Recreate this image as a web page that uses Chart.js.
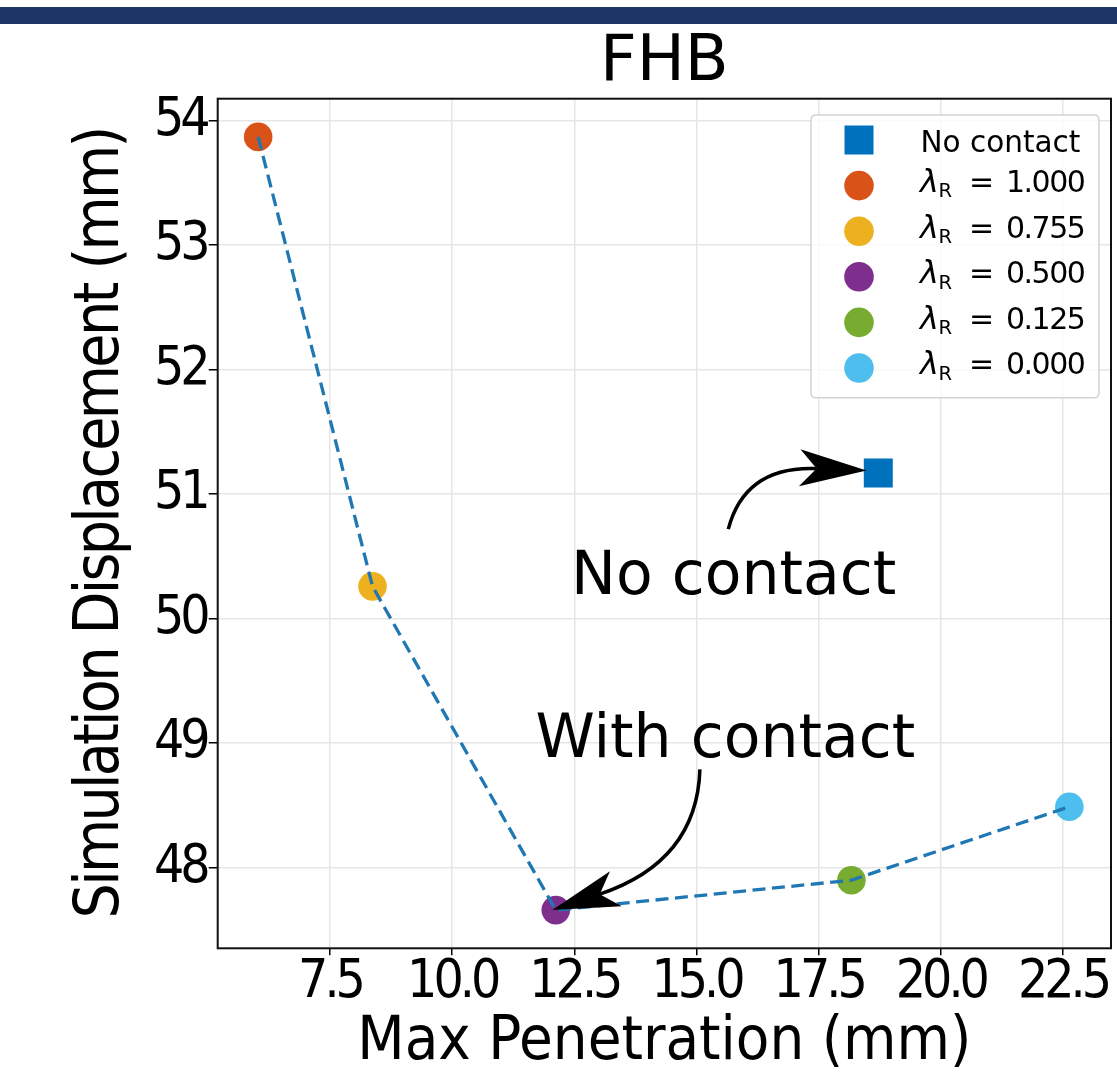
<!DOCTYPE html>
<html>
<head>
<meta charset="utf-8">
<title>FHB</title>
<script src="https://cdn.jsdelivr.net/npm/chart.js@4.4.1/dist/chart.umd.min.js"></script>
<style>
  html, body { margin: 0; padding: 0; background: #fff; }
  #wrap { position: relative; width: 1117px; height: 1075px; }
  #topBar { position: absolute; left: 0; top: 7px; width: 1117px; height: 17px; background: #1c3768; }
</style>
</head>
<body>
<div id="wrap">
  <canvas id="fhbChart"></canvas>
  <div id="topBar"></div>
</div>
<script>
// Values
const penetration = [6.03, 8.37, 12.12, 18.17, 22.63];
const displacement = [53.87, 50.26, 47.66, 47.90, 48.49];
const lambdaValues = ['1.000', '0.755', '0.500', '0.125', '0.000'];
const pointColors = ['#D95319', '#EDB120', '#7E2F8E', '#77AC30', '#4DBEEE'];

const noContactPenetration = [18.72];
const noContactDisplacement = [51.17];
const noContactColor = '#0072BD';

const xTicks = [7.5, 10.0, 12.5, 15.0, 17.5, 20.0, 22.5];
const yTicks = [48, 49, 50, 51, 52, 53, 54];

// Annotations (data coordinates)
const noteTexts = ['No contact', 'With contact'];
const noteTextX = [15.76, 15.59];
const noteTextY = [50.20, 48.89];
const arrowTail = [[15.65, 50.72], [15.07, 48.79]];
const arrowBend = [[15.99, 51.23], [15.01, 48.05]];
const arrowTip = [[18.48, 51.19], [12.05, 47.66]];

const condensed = "'DejaVu Sans Condensed', 'DejaVu Sans', sans-serif";
const regular = "'DejaVu Sans', sans-serif";

// letter spacing per scale (px), the axis texts are drawn very tight
const spacingById = {
    x: { ticks: -4, title: 0 },
    y: { ticks: -4, title: -2.8 }
};

function withSpacing(ctx, px, fn) {
    const prev = ctx.letterSpacing;
    ctx.letterSpacing = px + 'px';
    fn();
    ctx.letterSpacing = prev;
}

const tightText = {
    id: 'tightText',
    beforeDraw(chart) {
        Object.values(chart.scales).forEach(scale => {
            if (scale.$tight) return;
            const sp = spacingById[scale.id];
            const drawLabels = scale.drawLabels;
            const drawTitle = scale.drawTitle;
            scale.drawLabels = function (area) {
                withSpacing(this.ctx, sp.ticks, () => drawLabels.call(this, area));
            };
            scale.drawTitle = function () {
                withSpacing(this.ctx, sp.title, () => drawTitle.call(this));
            };
            scale.$tight = true;
        });
    }
};

// Text labels with curved arrows
const notes = {
    id: 'notes',
    afterDatasetsDraw(chart) {
        const ctx = chart.ctx;
        const xs = chart.scales.x, ys = chart.scales.y;
        const px = p => [xs.getPixelForValue(p[0]), ys.getPixelForValue(p[1])];
        ctx.save();
        noteTexts.forEach((t, i) => {
            ctx.fillStyle = '#000';
            ctx.font = '60px ' + regular;
            ctx.textAlign = 'center';
            ctx.textBaseline = 'alphabetic';
            ctx.fillText(t, xs.getPixelForValue(noteTextX[i]), ys.getPixelForValue(noteTextY[i]));

            const tail = px(arrowTail[i]), bend = px(arrowBend[i]), tip = px(arrowTip[i]);
            const dx = tip[0] - bend[0], dy = tip[1] - bend[1];
            const len = Math.hypot(dx, dy);
            const ux = dx / len, uy = dy / len, nx = -uy, ny = ux;
            const headLen = 67, halfW = 18.5, notchLen = 50;
            const notch = [tip[0] - ux * notchLen, tip[1] - uy * notchLen];

            ctx.beginPath();
            ctx.moveTo(tail[0], tail[1]);
            ctx.quadraticCurveTo(bend[0], bend[1], notch[0], notch[1]);
            ctx.lineWidth = 3.5;
            ctx.strokeStyle = '#000';
            ctx.stroke();

            const back = [tip[0] - ux * headLen, tip[1] - uy * headLen];
            ctx.beginPath();
            ctx.moveTo(tip[0], tip[1]);
            ctx.lineTo(back[0] + nx * halfW, back[1] + ny * halfW);
            ctx.lineTo(notch[0], notch[1]);
            ctx.lineTo(back[0] - nx * halfW, back[1] - ny * halfW);
            ctx.closePath();
            ctx.fill();
        });
        ctx.restore();
    }
};

// Legend box with lambda_R labels, plus the axes frame
const sideLegend = {
    id: 'sideLegend',
    afterDraw(chart) {
        const ctx = chart.ctx;
        const a = chart.chartArea;
        const left = a.right - 300, right = a.right - 12;
        const top = a.top + 16.3, bottom = top + 282.7;

        ctx.save();
        ctx.beginPath();
        const r = 5;
        ctx.moveTo(left + r, top);
        ctx.lineTo(right - r, top);
        ctx.quadraticCurveTo(right, top, right, top + r);
        ctx.lineTo(right, bottom - r);
        ctx.quadraticCurveTo(right, bottom, right - r, bottom);
        ctx.lineTo(left + r, bottom);
        ctx.quadraticCurveTo(left, bottom, left, bottom - r);
        ctx.lineTo(left, top + r);
        ctx.quadraticCurveTo(left, top, left + r, top);
        ctx.closePath();
        ctx.fillStyle = 'rgba(255,255,255,0.8)';
        ctx.fill();
        ctx.strokeStyle = '#d3d3d3';
        ctx.lineWidth = 1.5;
        ctx.stroke();

        const markX = left + 48;
        const textX = left + 109.5;
        const rowY = i => top + 25 + i * 45.6;

        // first row: no contact
        ctx.fillStyle = noContactColor;
        ctx.fillRect(markX - 14.5, rowY(0) - 14.5, 29, 29);
        ctx.fillStyle = '#000';
        ctx.textAlign = 'left';
        ctx.textBaseline = 'alphabetic';
        ctx.font = '29.5px ' + regular;
        ctx.fillText('No contact', textX, rowY(0) + 11.7);

        lambdaValues.forEach((v, k) => {
            const y = rowY(k + 1);
            ctx.beginPath();
            ctx.arc(markX, y, 14.8, 0, Math.PI * 2);
            ctx.fillStyle = pointColors[k];
            ctx.fill();

            ctx.fillStyle = '#000';
            ctx.font = 'italic 32px ' + regular;
            ctx.fillText('λ', textX - 0.5, y + 6.3);
            ctx.font = '19.5px ' + regular;
            ctx.fillText('R', textX + 18, y + 11.8);
            ctx.font = '30px ' + regular;
            ctx.fillText('=', left + 158, y + 6.3);
            withSpacing(ctx, -1.5, () => ctx.fillText(v, left + 195, y + 6.3));
        });

        // axes frame
        ctx.strokeStyle = '#111';
        ctx.lineWidth = 2;
        ctx.strokeRect(a.left, a.top, a.right - a.left, a.bottom - a.top);
        ctx.restore();
    }
};

const contactPoints = penetration.map((v, i) => ({ x: v, y: displacement[i] }));
const noContactPoints = noContactPenetration.map((v, i) => ({ x: v, y: noContactDisplacement[i] }));

const ctx = document.getElementById('fhbChart').getContext('2d');
new Chart(ctx, {
    type: 'scatter',
    data: {
        datasets: [
            {
                label: 'trend',
                data: contactPoints,
                showLine: true,
                borderColor: '#1f77b4',
                borderWidth: 3.3,
                borderDash: [13, 6.5],
                pointRadius: 0,
                fill: false,
                order: 1
            },
            {
                label: 'lambda',
                data: contactPoints,
                showLine: false,
                pointRadius: 14.3,
                pointBorderWidth: 0,
                pointBackgroundColor: pointColors,
                order: 2
            },
            {
                label: 'No contact',
                data: noContactPoints,
                showLine: false,
                pointStyle: 'rect',
                pointRadius: 20.5,
                pointBorderWidth: 0,
                pointBackgroundColor: noContactColor,
                order: 2
            }
        ]
    },
    options: {
        responsive: true,
        maintainAspectRatio: false,
        devicePixelRatio: 1,
        animation: false,
        events: [],
        layout: { autoPadding: false, padding: { left: 0, right: 6, top: 0, bottom: 0 } },
        plugins: {
            legend: { display: false },
            tooltip: { enabled: false },
            title: {
                display: true,
                text: 'FHB',
                fullSize: false,
                color: '#000',
                font: { family: regular, size: 64, weight: 'normal', lineHeight: 1 },
                padding: { top: 31, bottom: 3.7 }
            }
        },
        scales: {
            x: {
                type: 'linear',
                min: 5.202,
                max: 23.482,
                afterBuildTicks: s => { s.ticks = xTicks.map(v => ({ value: v })); },
                afterFit: s => {
                    s.height = 126.7;
                    s.paddingLeft = 0;
                    s.paddingRight = 0;
                },
                ticks: {
                    callback: v => v.toFixed(1),
                    color: '#000',
                    font: { family: condensed, size: 53, lineHeight: 1 },
                    padding: 1,
                    maxRotation: 0,
                    autoSkip: false
                },
                grid: { color: '#e6e6e6', lineWidth: 1.5, tickColor: '#000', tickLength: 7, tickWidth: 1.5 },
                border: { display: false },
                title: {
                    display: true,
                    text: 'Max Penetration (mm)',
                    color: '#000',
                    font: { family: condensed, size: 61, lineHeight: 1 },
                    padding: { top: 0, bottom: 1 }
                }
            },
            y: {
                type: 'linear',
                min: 47.353,
                max: 54.177,
                afterBuildTicks: s => { s.ticks = yTicks.map(v => ({ value: v })); },
                afterFit: s => {
                    s.width = 217.7;
                    s.paddingTop = 0;
                    s.paddingBottom = 0;
                },
                ticks: {
                    callback: v => v.toFixed(0),
                    color: '#000',
                    font: { family: condensed, size: 53, lineHeight: 1 },
                    padding: 2,
                    autoSkip: false
                },
                grid: { color: '#e6e6e6', lineWidth: 1.5, tickColor: '#000', tickLength: 9, tickWidth: 1.5 },
                border: { display: false },
                title: {
                    display: true,
                    text: 'Simulation Displacement (mm)',
                    color: '#000',
                    font: { family: condensed, size: 62, lineHeight: 1 },
                    padding: { top: 70.5, bottom: 0 }
                }
            }
        }
    },
    plugins: [tightText, notes, sideLegend]
});
</script>
</body>
</html>
